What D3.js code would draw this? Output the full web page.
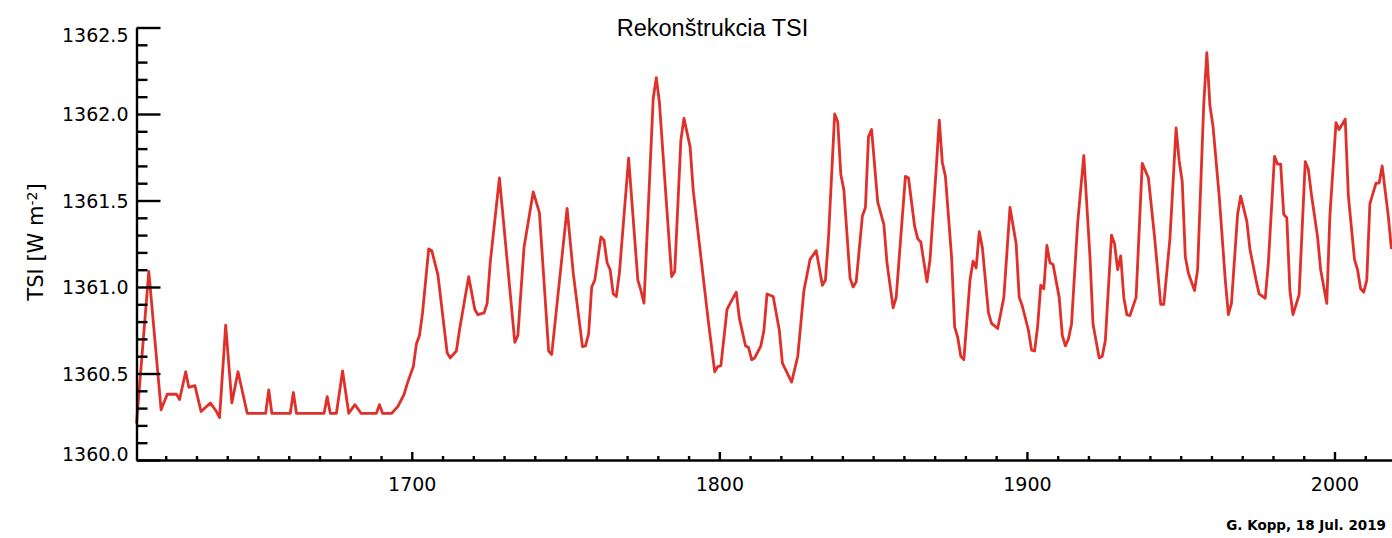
<!DOCTYPE html>
<html>
<head>
<meta charset="utf-8">
<script src="https://cdn.jsdelivr.net/npm/d3@7"></script>
<style>
  html, body { margin: 0; padding: 0; background: #fff; }
  svg { display: block; }
</style>
</head>
<body>
<svg id="chart" width="1392" height="538"></svg>
<script>
// Annual TSI reconstruction (W m^-2), one value per year, drawn at mid-year
const years = [
  1610, 1614, 1618, 1620, 1623, 1624, 1626, 1627, 1629, 1631, 1634, 1636, 1637, 1639, 1641, 1643, 1646,
  1652, 1653, 1654, 1660, 1661, 1662, 1671, 1672, 1673, 1675, 1677, 1679, 1681, 1683, 1688, 1689, 1690,
  1693, 1695, 1697, 1698, 1700, 1701, 1702, 1703, 1705, 1706, 1708, 1711, 1712, 1714, 1715, 1718, 1720,
  1721, 1723, 1724, 1725, 1728, 1733, 1734, 1736, 1739, 1741, 1744, 1745, 1750, 1752, 1755, 1756, 1757,
  1758, 1759, 1761, 1762, 1763, 1764, 1765, 1766, 1767, 1770, 1773, 1774, 1775, 1778, 1779, 1780, 1782,
  1784, 1785, 1787, 1788, 1790, 1791, 1793, 1796, 1798, 1799, 1800, 1802, 1803, 1805, 1806, 1808, 1809,
  1810, 1811, 1813, 1814, 1815, 1817, 1819, 1820, 1823, 1825, 1827, 1829, 1831, 1833, 1834, 1835, 1837,
  1838, 1839, 1840, 1842, 1843, 1844, 1846, 1847, 1848, 1849, 1851, 1853, 1854, 1856, 1857, 1860, 1861,
  1863, 1864, 1865, 1867, 1868, 1870, 1871, 1872, 1873, 1875, 1876, 1877, 1878, 1879, 1881, 1882, 1883,
  1884, 1885, 1887, 1888, 1890, 1892, 1894, 1896, 1897, 1898, 1900, 1901, 1902, 1903, 1904, 1905, 1906,
  1907, 1908, 1910, 1911, 1912, 1913, 1914, 1916, 1918, 1920, 1921, 1923, 1924, 1925, 1927, 1928, 1929,
  1930, 1931, 1932, 1933, 1935, 1937, 1939, 1941, 1943, 1944, 1946, 1948, 1949, 1950, 1951, 1952, 1954,
  1955, 1957, 1958, 1959, 1960, 1962, 1964, 1965, 1966, 1968, 1969, 1971, 1972, 1974, 1975, 1977, 1978,
  1980, 1981, 1982, 1983, 1984, 1985, 1986, 1988, 1990, 1991, 1992, 1994, 1995, 1997, 1998, 2000, 2001,
  2003, 2004, 2006, 2007, 2008, 2009, 2010, 2011, 2013, 2014, 2015, 2017, 2018
];
const tsi = [
  1360.21, 1361.09, 1360.29, 1360.38, 1360.38, 1360.35, 1360.51, 1360.42, 1360.43, 1360.28, 1360.33, 1360.28, 1360.245, 1360.78, 1360.33, 1360.51, 1360.27,
  1360.27, 1360.405, 1360.27, 1360.27, 1360.39, 1360.27, 1360.27, 1360.366, 1360.27, 1360.27, 1360.515, 1360.27, 1360.32, 1360.27, 1360.27, 1360.32, 1360.27,
  1360.27, 1360.31, 1360.38, 1360.44, 1360.54, 1360.67, 1360.72, 1360.85, 1361.22, 1361.21, 1361.07, 1360.62, 1360.59, 1360.63, 1360.75, 1361.06, 1360.87,
  1360.84, 1360.85, 1360.905, 1361.14, 1361.63, 1360.68, 1360.72, 1361.23, 1361.55, 1361.43, 1360.63, 1360.61, 1361.455, 1361.08, 1360.655, 1360.66, 1360.73,
  1361.0, 1361.04, 1361.29, 1361.27, 1361.14, 1361.10, 1360.96, 1360.945, 1361.08, 1361.745, 1361.04, 1360.98, 1360.906, 1362.09, 1362.21, 1362.07, 1361.56,
  1361.06, 1361.09, 1361.85, 1361.975, 1361.81, 1361.56, 1361.25, 1360.79, 1360.51, 1360.54, 1360.545, 1360.87, 1360.905, 1360.97, 1360.82, 1360.66, 1360.65,
  1360.58, 1360.59, 1360.66, 1360.75, 1360.96, 1360.945, 1360.75, 1360.56, 1360.45, 1360.60, 1360.98, 1361.16, 1361.21, 1361.01, 1361.04, 1361.29, 1362.00,
  1361.955, 1361.65, 1361.56, 1361.05, 1361.00, 1361.03, 1361.41, 1361.46, 1361.87, 1361.91, 1361.49, 1361.36, 1361.14, 1360.88, 1360.94, 1361.64, 1361.63,
  1361.35, 1361.28, 1361.26, 1361.03, 1361.16, 1361.68, 1361.965, 1361.72, 1361.64, 1361.175, 1360.77, 1360.71, 1360.60, 1360.58, 1361.04, 1361.15, 1361.11,
  1361.32, 1361.23, 1360.85, 1360.79, 1360.76, 1360.94, 1361.46, 1361.25, 1360.94, 1360.89, 1360.75, 1360.635, 1360.63, 1360.775, 1361.01, 1360.99, 1361.24,
  1361.14, 1361.13, 1360.94, 1360.72, 1360.66, 1360.70, 1360.785, 1361.37, 1361.76, 1361.175, 1360.785, 1360.59, 1360.60, 1360.69, 1361.30, 1361.25, 1361.10,
  1361.18, 1360.94, 1360.84, 1360.835, 1360.94, 1361.715, 1361.63, 1361.29, 1360.90, 1360.90, 1361.28, 1361.92, 1361.73, 1361.61, 1361.175, 1361.08, 1360.98,
  1361.10, 1362.06, 1362.355, 1362.05, 1361.93, 1361.53, 1361.04, 1360.84, 1360.905, 1361.42, 1361.525, 1361.38, 1361.22, 1361.04, 1360.96, 1360.935, 1361.14,
  1361.755, 1361.71, 1361.71, 1361.42, 1361.40, 1360.98, 1360.84, 1360.955, 1361.725, 1361.68, 1361.535, 1361.29, 1361.10, 1360.905, 1361.41, 1361.95, 1361.91,
  1361.97, 1361.53, 1361.16, 1361.10, 1360.99, 1360.97, 1361.04, 1361.48, 1361.60, 1361.60, 1361.70, 1361.41, 1361.22
];

const xMajorTicks = [1700, 1800, 1900, 2000];
const xMinorTicks = d3.range(1620, 2020, 10).filter(v => v % 100 !== 0);
const yMajorTicks = [1360.0, 1360.5, 1361.0, 1361.5, 1362.0, 1362.5];
const yMinorTicks = d3.range(13601, 13625, 1).map(v => v / 10).filter(v => Math.round(v * 10) % 5 !== 0);

const titleText = "Rekonštrukcia TSI";
const yTitleMain = "TSI [W m";
const yTitleSup = "-2";
const yTitleEnd = "]";
const creditText = "G. Kopp, 18 Jul. 2019";

const svg = d3.select("#chart");
const plotLeft = 136.5, plotBottom = 460, plotTop = 27.5, plotRight = 1392;

const x = d3.scaleLinear().domain([1610.5, 2018.7]).range([plotLeft, plotRight]);
const y = d3.scaleLinear().domain([1360.0, 1362.5]).range([plotBottom, plotTop]);

const tickFont = "'DejaVu Sans', sans-serif";

// data line
const data = years.map((yr, i) => ({ year: yr, value: tsi[i] }));
const line = d3.line().x(d => x(d.year + 0.5)).y(d => y(d.value));
svg.append("path")
  .datum(data)
  .attr("d", line)
  .attr("fill", "none")
  .attr("stroke", "#e0302a")
  .attr("stroke-width", 2.8)
  .attr("stroke-linejoin", "round");

// y axis: ticks point into the plot
const yAxis = d3.axisLeft(y).tickValues(yMajorTicks).tickSize(-24).tickSizeOuter(0)
  .tickPadding(8).tickFormat(d3.format(".1f"));
const yAxisMinor = d3.axisLeft(y).tickValues(yMinorTicks).tickSize(-11).tickSizeOuter(0).tickFormat("");

const gyMinor = svg.append("g").attr("transform", `translate(${plotLeft},0)`).call(yAxisMinor);
gyMinor.select(".domain").remove();
const gy = svg.append("g").attr("transform", `translate(${plotLeft},0)`).call(yAxis);

// x axis
const xAxis = d3.axisBottom(x).tickValues(xMajorTicks).tickSize(-8).tickSizeOuter(0)
  .tickPadding(18).tickFormat(d3.format("d"));
const xAxisMinor = d3.axisBottom(x).tickValues(xMinorTicks).tickSize(-4).tickSizeOuter(0).tickFormat("");
const gxMinor = svg.append("g").attr("transform", `translate(0,${plotBottom})`).call(xAxisMinor);
gxMinor.select(".domain").remove();
const gx = svg.append("g").attr("transform", `translate(0,${plotBottom})`).call(xAxis);

svg.selectAll(".domain, .tick line").attr("stroke", "#000").attr("stroke-width", 2.4);
svg.selectAll(".tick text").attr("fill", "#000").style("font-family", tickFont).style("font-size", "19px");

// end labels of the y axis sit inside the axis range
gy.selectAll(".tick text")
  .attr("dy", d => d === 1362.5 ? "0.72em" : (d === 1360.0 ? "0em" : "0.36em"));

// title
svg.append("text")
  .attr("x", 712.5).attr("y", 36)
  .attr("text-anchor", "middle")
  .style("font-family", "'Liberation Sans', Arial, sans-serif")
  .style("font-size", "23.5px")
  .attr("fill", "#000")
  .text(titleText);

// y axis title
const yt = svg.append("text")
  .attr("transform", "translate(43,242) rotate(-90)")
  .attr("text-anchor", "middle")
  .style("font-family", tickFont)
  .style("font-size", "21px")
  .attr("fill", "#000");
yt.append("tspan").text(yTitleMain);
yt.append("tspan").attr("dy", "-0.45em").style("font-size", "14px").text(yTitleSup);
yt.append("tspan").attr("dy", "0.3em").text(yTitleEnd);

// credit
svg.append("text")
  .attr("x", 1386).attr("y", 530)
  .attr("text-anchor", "end")
  .style("font-family", tickFont)
  .style("font-weight", "bold")
  .style("font-size", "13.5px")
  .attr("fill", "#000")
  .text(creditText);
</script>
</body>
</html>
